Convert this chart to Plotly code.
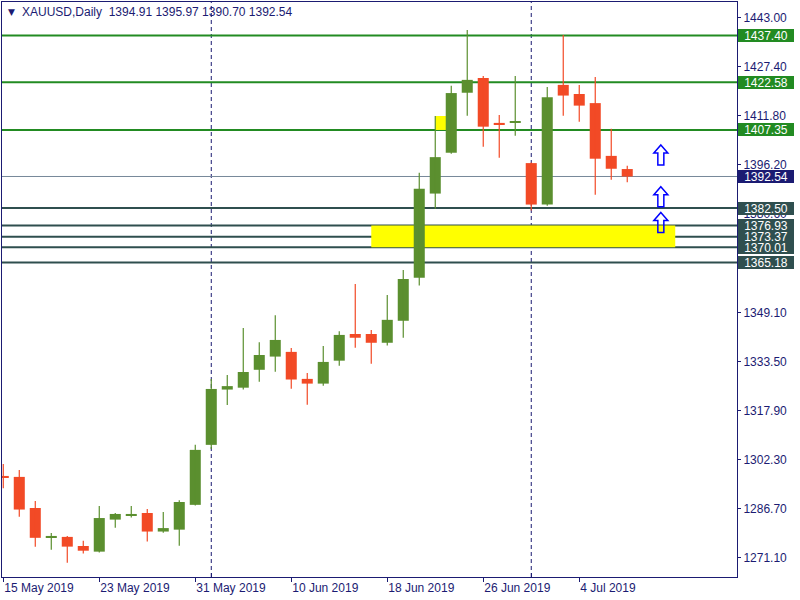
import plotly.graph_objects as go

# ---------------- data ----------------
dates = ["15 May", "16 May", "17 May", "20 May", "21 May", "22 May", "23 May", "24 May",
         "27 May", "28 May", "29 May", "30 May", "31 May", "3 Jun", "4 Jun", "5 Jun",
         "6 Jun", "7 Jun", "10 Jun", "11 Jun", "12 Jun", "13 Jun", "14 Jun", "17 Jun",
         "18 Jun", "19 Jun", "20 Jun", "21 Jun", "24 Jun", "25 Jun", "26 Jun", "27 Jun",
         "28 Jun", "1 Jul", "2 Jul", "3 Jul", "4 Jul", "5 Jul", "8 Jul", "9 Jul"]
opens = [1297.2, 1296.9, 1287.0, 1277.5, 1277.8, 1274.9, 1273.1, 1283.3,
         1284.6, 1285.4, 1279.5, 1280.1, 1288.0, 1307.1, 1324.7, 1325.3,
         1331.0, 1335.2, 1336.7, 1328.1, 1326.6, 1333.9, 1342.4, 1342.4,
         1339.6, 1346.6, 1360.3, 1387.1, 1400.1, 1419.2, 1423.9, 1409.6,
         1409.7, 1396.8, 1383.6, 1421.7, 1418.8, 1415.9, 1399.1, 1394.91]
highs = [1301.0, 1299.1, 1289.2, 1279.0, 1278.1, 1276.6, 1287.6, 1285.4,
         1287.6, 1286.7, 1285.7, 1289.5, 1307.1, 1328.1, 1329.3, 1344.3,
         1339.8, 1348.4, 1337.9, 1330.0, 1338.6, 1343.3, 1358.3, 1343.7,
         1354.8, 1362.8, 1393.7, 1411.8, 1421.4, 1439.2, 1424.5, 1412.1,
         1424.5, 1397.0, 1421.0, 1437.6, 1421.7, 1424.2, 1407.7, 1395.97]
lows = [1293.3, 1284.2, 1274.7, 1273.7, 1269.6, 1272.5, 1272.8, 1280.7,
        1284.0, 1276.3, 1279.1, 1275.0, 1287.8, 1305.8, 1319.8, 1324.7,
        1327.2, 1330.4, 1325.0, 1319.9, 1325.9, 1332.3, 1338.0, 1332.9,
        1338.7, 1341.2, 1357.8, 1382.3, 1399.8, 1411.9, 1402.0, 1398.5,
        1405.5, 1381.7, 1383.2, 1411.9, 1410.0, 1386.7, 1391.5, 1390.70]
closes = [1296.6, 1286.5, 1277.5, 1278.1, 1274.7, 1273.4, 1283.8, 1285.1,
          1285.1, 1279.5, 1280.6, 1288.9, 1305.5, 1324.9, 1325.8, 1330.3,
          1335.7, 1340.5, 1327.9, 1326.6, 1333.5, 1342.1, 1341.2, 1339.6,
          1346.9, 1359.9, 1388.6, 1398.7, 1419.1, 1423.3, 1408.4, 1409.0,
          1410.2, 1383.6, 1417.8, 1418.3, 1415.1, 1398.2, 1395.0, 1392.54]

date_tick_idx = [0, 6, 12, 18, 24, 30, 36]
date_tick_text = ["15 May 2019", "23 May 2019", "31 May 2019", "10 Jun 2019",
                  "18 Jun 2019", "26 Jun 2019", "4 Jul 2019"]
month_sep_idx = [13, 33]

price_ticks = [1443.00, 1427.40, 1411.80, 1396.20, 1380.60, 1365.00,
               1349.10, 1333.50, 1317.90, 1302.30, 1286.70, 1271.10]

green_levels = [1437.40, 1422.58, 1407.35]
slate_levels = [1382.50, 1376.93, 1373.37, 1370.01, 1365.18]
bid_level = 1392.54

zone_big = dict(x0=23, x1=42, y0=1370.01, y1=1376.93)
zone_small = dict(x0=27, x1=28, y0=1407.35, y1=1411.80)

arrow_x = [41.1, 41.1, 41.1]
arrow_y = [1399.4, 1386.1, 1377.9]

title_text = "XAUUSD,Daily  1394.91 1395.97 1390.70 1392.54"

# ---------------- styles ----------------
UP = "#5b8f2f"
DOWN = "#f24a26"
NAVY = "#1b1b72"
GREEN_LINE = "#228b22"
SLATE = "#2f4f4f"
BID = "#778899"
FONT = "Liberation Sans"

idx = list(range(len(dates)))
up = [i for i in idx if closes[i] >= opens[i]]
dn = [i for i in idx if closes[i] < opens[i]]

fig = go.Figure()

def wick_xy(ids):
    xs, ys = [], []
    for i in ids:
        xs += [i, i, None]
        ys += [lows[i], highs[i], None]
    return xs, ys

for ids, col in ((up, UP), (dn, DOWN)):
    wx, wy = wick_xy(ids)
    fig.add_trace(go.Scatter(x=wx, y=wy, mode="lines", line=dict(color=col, width=1.2),
                             hoverinfo="skip", showlegend=False))

fig.add_trace(go.Bar(x=up, base=[opens[i] for i in up],
                     y=[max(closes[i] - opens[i], 0.5) for i in up],
                     width=0.69, marker=dict(color=UP, line=dict(width=0)),
                     hoverinfo="skip", showlegend=False))
fig.add_trace(go.Bar(x=dn, base=[closes[i] for i in dn],
                     y=[max(opens[i] - closes[i], 0.5) for i in dn],
                     width=0.69, marker=dict(color=DOWN, line=dict(width=0)),
                     hoverinfo="skip", showlegend=False))

shapes = []
for z in (zone_big, zone_small):
    shapes.append(dict(type="rect", xref="x", yref="y", x0=z["x0"], x1=z["x1"],
                       y0=z["y0"], y1=z["y1"], fillcolor="#ffff00",
                       line=dict(width=0), layer="below"))
for m in month_sep_idx:
    shapes.append(dict(type="line", xref="x", yref="paper", x0=m, x1=m, y0=0, y1=1,
                       line=dict(color=NAVY, width=1, dash="4px,3px"), layer="below"))
shapes.append(dict(type="line", xref="paper", yref="y", x0=0, x1=1, y0=bid_level,
                   y1=bid_level, line=dict(color=BID, width=1), layer="below"))
for lv in green_levels:
    shapes.append(dict(type="line", xref="paper", yref="y", x0=0, x1=1, y0=lv, y1=lv,
                       line=dict(color=GREEN_LINE, width=2), layer="below"))
for lv in slate_levels:
    shapes.append(dict(type="line", xref="paper", yref="y", x0=0, x1=1, y0=lv, y1=lv,
                       line=dict(color=SLATE, width=2), layer="below"))
arrow_path = "M 0 10 L 7 2 L 3 2 L 3 -10 L -3 -10 L -3 2 L -7 2 Z"
for ax_, ay_ in zip(arrow_x, arrow_y):
    shapes.append(dict(type="path", xref="x", yref="y", xsizemode="pixel",
                       ysizemode="pixel", xanchor=ax_, yanchor=ay_, path=arrow_path,
                       line=dict(color="#0000ff", width=1.5),
                       fillcolor="rgba(0,0,0,0)", layer="above"))

annotations = []
def price_box(val, col):
    return dict(x=1, xref="paper", y=val, yref="y", xanchor="left", yanchor="middle",
                xshift=1, text=f"{val:.2f}", showarrow=False, bgcolor=col,
                font=dict(family=FONT, size=12, color="white"), width=56, height=13,
                borderpad=0, borderwidth=0, align="center")

for lv in green_levels:
    annotations.append(price_box(lv, GREEN_LINE))
annotations.append(price_box(bid_level, NAVY))
for lv in slate_levels:
    annotations.append(price_box(lv, SLATE))

annotations.append(dict(x=0, xref="paper", y=1, yref="paper", xanchor="left",
                        yanchor="middle", xshift=4, yshift=-10, text="▼",
                        showarrow=False, font=dict(family="DejaVu Sans", size=9, color=NAVY)))
annotations.append(dict(x=0, xref="paper", y=1, yref="paper", xanchor="left",
                        yanchor="middle", xshift=18, yshift=-10, text=title_text,
                        showarrow=False, font=dict(family=FONT, size=12, color=NAVY)))

fig.update_layout(
    width=800, height=600,
    margin=dict(l=2, r=63, t=2, b=23),
    paper_bgcolor="white", plot_bgcolor="white",
    barmode="overlay", showlegend=False,
    shapes=shapes, annotations=annotations,
    font=dict(family=FONT, size=12, color=NAVY),
    xaxis=dict(range=[-0.08, 45.86], tickmode="array", tickvals=date_tick_idx,
               ticktext=date_tick_text, ticks="outside", ticklen=4, tickcolor=NAVY,
               ticklabelposition="outside right",
               showgrid=False, zeroline=False, showline=True, mirror=True,
               linecolor=NAVY, linewidth=1,
               tickfont=dict(family=FONT, size=12, color=NAVY),
               minor=dict(tickvals=month_sep_idx, ticks="inside", ticklen=4,
                          tickcolor=NAVY, showgrid=False)),
    yaxis=dict(range=[1265.03, 1448.09], side="right", tickmode="array",
               tickvals=price_ticks, ticktext=[f"{v:.2f}" for v in price_ticks],
               ticks="outside", ticklen=3, tickcolor=NAVY,
               showgrid=False, zeroline=False, showline=True, mirror=True,
               linecolor=NAVY, linewidth=1,
               tickfont=dict(family=FONT, size=12, color=NAVY)),
)

fig.write_html("out.html", config={"displayModeBar": False},
               post_script="document.body.style.margin='0';document.body.style.padding='0';")
